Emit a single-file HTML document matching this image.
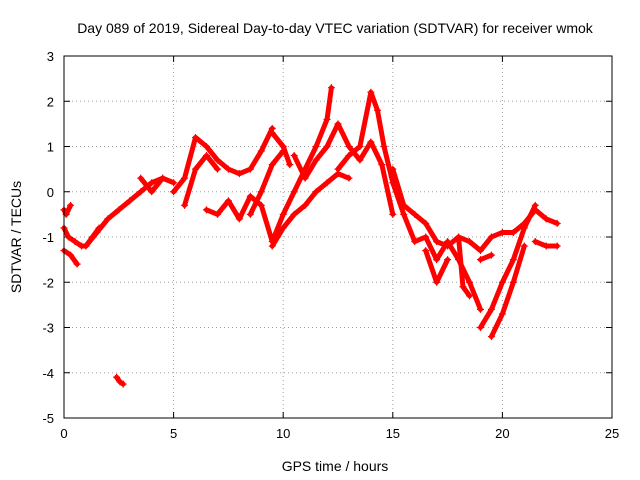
<!DOCTYPE html>
<html><head><meta charset="utf-8"><style>
body{margin:0;background:#fff;}
svg{display:block;font-family:"Liberation Sans",sans-serif;}
</style></head><body>
<svg id="chart" width="640" height="480" viewBox="0 0 640 480">
<text x="335" y="33" font-size="14" text-anchor="middle">Day 089 of 2019, Sidereal Day-to-day VTEC variation (SDTVAR) for receiver wmok</text>
<text transform="translate(21,237) rotate(-90)" font-size="14" text-anchor="middle">SDTVAR / TECUs</text>
<text x="335" y="471" font-size="14" text-anchor="middle">GPS time / hours</text>
<g id="grid"></g>
<g id="ticks"></g>
<g id="marks"></g>
<rect x="64" y="56" width="548" height="362" fill="none" stroke="#000" stroke-width="1"/>
</svg>
<script>
const xTicks=[0,5,10,15,20,25];
const yTicks=[3,2,1,0,-1,-2,-3,-4,-5];
const trackTimes=[
[0,0.2,0.5,0.8,1.0,1.3,1.6],
[0,0.3,0.6],
[1.0,1.5,2.0,2.5,3.0,3.5,4.0,4.5],
[2.4,2.55,2.7],
[3.5,4.0,4.5,5.0],
[5.0,5.5,6.0,6.5,7.0,7.5,8.0,8.5,9.0,9.5],
[5.5,6.0,6.5,7.0],
[6.5,7.0,7.5,8.0,8.5,9.0,9.5,10.0,10.5,11.0,11.5,12.0,12.2],
[9.5,10.0,10.5,11.0,11.5,12.0,12.5,13.0],
[10.5,11.0,11.5,12.0,12.5,13.0,13.5,14.0,14.5,15.0],
[12.5,13.0,13.5,14.0,14.3,14.6,15.0,15.5,16.0,16.5,17.0,17.5,18.0,18.5,19.0],
[15.0,15.5,16.0,16.5,17.0,17.5,18.0,18.5,19.0,19.5,20.0,20.5,21.0,21.5,22.0,22.5],
[16.5,17.0,17.5],
[18.0,18.2,18.5],
[19.0,19.5,20.0,20.5,21.0,21.5],
[19.5,20.0,20.5,21.0],
[21.5,22.0,22.5],
[19.0,19.5],
[9.5,10.0,10.3],
[8.5,9.0,9.5,10.0],
[0,0.1,0.3]
];
const trackValues=[
[-0.8,-1.0,-1.1,-1.2,-1.2,-1.0,-0.8],
[-1.3,-1.4,-1.6],
[-1.2,-0.9,-0.6,-0.4,-0.2,0.0,0.2,0.3],
[-4.1,-4.2,-4.25],
[0.3,0.0,0.3,0.2],
[0.0,0.3,1.2,1.0,0.7,0.5,0.4,0.5,0.9,1.4],
[-0.3,0.5,0.8,0.5],
[-0.4,-0.5,-0.2,-0.6,-0.1,-0.3,-1.1,-0.5,0.0,0.5,1.0,1.6,2.3],
[-1.2,-0.8,-0.5,-0.3,0.0,0.2,0.4,0.3],
[0.8,0.3,0.7,1.0,1.5,1.0,0.7,1.1,0.6,-0.5],
[0.5,0.8,1.0,2.2,1.8,1.0,0.2,-0.5,-1.1,-1.0,-1.5,-1.1,-1.5,-2.0,-2.6],
[0.5,-0.3,-0.5,-0.7,-1.1,-1.2,-1.0,-1.1,-1.3,-1.0,-0.9,-0.9,-0.7,-0.4,-0.6,-0.7],
[-1.3,-2.0,-1.5],
[-1.0,-2.1,-2.3],
[-3.0,-2.6,-2.0,-1.5,-0.8,-0.3],
[-3.2,-2.7,-2.0,-1.2],
[-1.1,-1.2,-1.2],
[-1.5,-1.4],
[1.3,1.0,0.6],
[-0.5,0.0,0.6,0.9],
[-0.4,-0.5,-0.3]
];
const NS="http://www.w3.org/2000/svg";
const X0=64,X1=612,Y0=418,Y1=56;
function xs(t){return X0+(t-0)/(25-0)*(X1-X0);}
function ys(v){return Y0-(v-(-5))/(3-(-5))*(Y0-Y1);}
const grid=document.getElementById('grid'),ticks=document.getElementById('ticks'),marks=document.getElementById('marks');
function mk(tag,attrs,parent){const e=document.createElementNS(NS,tag);for(const k in attrs)e.setAttribute(k,attrs[k]);parent.appendChild(e);return e;}
xTicks.forEach(t=>{const x=xs(t);
 if(t>0&&t<25){const g=mk('line',{x1:x,x2:x,y1:Y1,y2:Y0,stroke:'#a0a0a0','stroke-dasharray':'1,3'},grid);
 
 }
 mk('line',{x1:x,x2:x,y1:Y0,y2:Y0-6,stroke:'#000'},ticks);
 mk('line',{x1:x,x2:x,y1:Y1,y2:Y1+6,stroke:'#000'},ticks);
 const l=mk('text',{x:x,y:Y0+20,'font-size':13,'text-anchor':'middle'},ticks);l.textContent=t;
 
 
});
yTicks.forEach(v=>{const y=ys(v);
 if(v>-5&&v<3){const g=mk('line',{x1:X0,x2:X1,y1:y,y2:y,stroke:'#a0a0a0','stroke-dasharray':'1,3'},grid);
 
 }
 mk('line',{x1:X0,x2:X0+6,y1:y,y2:y,stroke:'#000'},ticks);
 mk('line',{x1:X1,x2:X1-6,y1:y,y2:y,stroke:'#000'},ticks);
 const l=mk('text',{x:X0-10,y:y+5,'font-size':13,'text-anchor':'end'},ticks);l.textContent=v;
 
 
});
trackTimes.forEach((ts,i)=>{const vs=trackValues[i];
 const pts=ts.map((t,j)=>xs(t)+','+ys(vs[j])).join(' ');
 const pl=mk('polyline',{points:pts,fill:'none',stroke:'#ff0000','stroke-width':5,'stroke-linejoin':'round','stroke-linecap':'round'},marks);
 
 
 ts.forEach((t,j)=>{const x=xs(t),y=ys(vs[j]);
  const p=mk('path',{d:`M${x-3.5},${y}H${x+3.5}M${x},${y-3.5}V${y+3.5}`,stroke:'#ff0000','stroke-width':1.2},marks);
  
  
 });
});
</script>
</body></html>
